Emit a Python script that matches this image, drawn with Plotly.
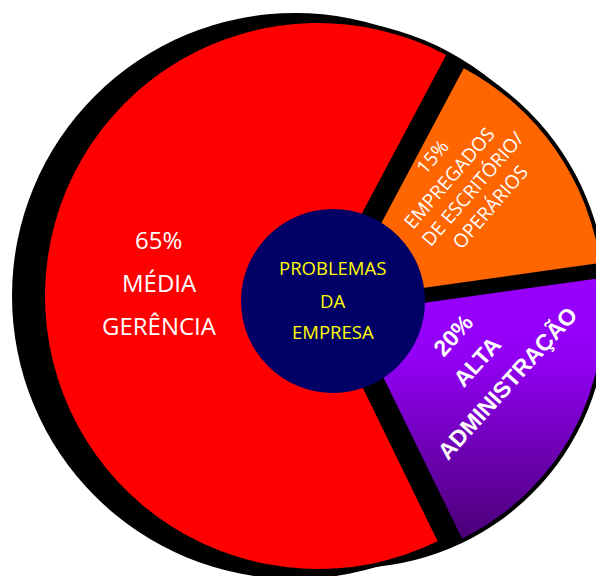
import math
import plotly.graph_objects as go

# ---------------- data ----------------
categories = ["EMPREGADOS DE ESCRITÓRIO/OPERÁRIOS", "ALTA ADMINISTRAÇÃO", "MÉDIA GERÊNCIA"]
values = [15, 20, 65]
slice_colors = ["#FF6600", "#9900FF", "#FF0000"]
center_title = ["PROBLEMAS", "DA", "EMPRESA"]
orange_lines = ["EMPREGADOS", "DE ESCRITÓRIO/", "OPERÁRIOS"]
purple_lines = ["ALTA", "ADMINISTRAÇÃO"]
red_lines = ["MÉDIA", "GERÊNCIA"]
purple_gradient = [[0.0, "#9900FF"], [0.3, "#9300F5"], [1.0, "#4B0078"]]

# ---------------- layout constants ----------------
W, H = 604, 576          # window size
OFF = 8                  # default page (body) margin
FW, FH = W - OFF, H - OFF  # figure size so that it ends at the window edge
START_ANGLE = 28  # first slice starts 28 deg clockwise from 12 o'clock
RIM = 4           # thin black rim around each slice
# exploded slices: pixel apex (window coords) and radius of each slice
placement = [
    (340.7, 299.5, 262.0),  # orange
    (352.0, 313.0, 251.0),  # purple
    (318.0, 296.0, 273.0),  # red
]
TRANSPARENT = "rgba(0,0,0,0)"

fig = go.Figure()

# gradient fill for the purple slice (drawn on px-scaled hidden axes, below pies)
total = sum(values)
a0 = START_ANGLE + 360.0 * values[0] / total
a1 = a0 + 360.0 * values[1] / total
pcx, pcy, pr = placement[1]
xs, ys = [pcx], [pcy]
n = 80
for k in range(n + 1):
    a = math.radians(a0 + (a1 - a0) * k / n)
    xs.append(pcx + pr * math.sin(a))
    ys.append(pcy - pr * math.cos(a))
xs.append(pcx)
ys.append(pcy)
fig.add_trace(go.Scatter(
    x=xs, y=ys, mode="lines", fill="toself", line=dict(width=0, color=TRANSPARENT),
    fillgradient=dict(type="vertical", colorscale=purple_gradient,
                      start=min(ys), stop=max(ys)),
    hoverinfo="skip", showlegend=False,
))

# one pie per exploded slice (same data, only its own slice is painted)
for i, (cx, cy, r) in enumerate(placement):
    cols = [slice_colors[j] if (j == i and i != 1) else TRANSPARENT for j in range(len(values))]
    fig.add_trace(go.Pie(
        labels=categories, values=values, sort=False, direction="clockwise",
        rotation=START_ANGLE,
        marker=dict(colors=cols, line=dict(width=0, color="black")),
        textinfo="none", hoverinfo="skip", showlegend=False,
        domain=dict(x=[(cx - r - OFF) / FW, (cx + r - OFF) / FW],
                    y=[1 - (cy + r - OFF) / FH, 1 - (cy - r - OFF) / FH]),
    ))

shapes = [
    # black shadow disk, offset to the left
    dict(type="circle", xref="x", yref="y", x0=12, x1=578, y0=13, y1=579,
         fillcolor="black", line=dict(width=0), layer="below"),
]
# black backing behind each slice (fills the gaps and gives a thin rim)
for cx, cy, r in placement:
    shapes.append(dict(type="circle", xref="x", yref="y",
                       x0=cx - r - RIM, x1=cx + r + RIM, y0=cy - r - RIM, y1=cy + r + RIM,
                       fillcolor="black", line=dict(width=0), layer="below"))
# navy centre
shapes.append(dict(type="circle", xref="x", yref="y", x0=333 - 92, x1=333 + 92,
                   y0=301 - 92, y1=301 + 92, fillcolor="#000066",
                   line=dict(width=0), layer="above"))

ann = []
def add(text, x, y, size, color, family, angle=0):
    ann.append(dict(text=text, x=x, y=y, xref="x", yref="y", showarrow=False,
                    xanchor="center", yanchor="middle", textangle=angle,
                    font=dict(size=size, color=color, family=family)))

# centre
for t, y in zip(center_title, [267.3, 300, 331.7]):
    add(t, 332.7, y, 18.5, "#FFFF00", "Open Sans")
# red
add(f"{values[2]}%", 158.3, 239, 24, "white", "Open Sans")
for t, y in zip(red_lines, [282.3, 325.7]):
    add(t, 159.5, y, 24, "white", "Open Sans")
# orange
add(f"{values[0]}%", 432.3, 157.3, 19, "white", "Open Sans", -49)
for t, (x, y) in zip(orange_lines, [(449, 178), (472.3, 189), (490, 207.3)]):
    add(t, x, y, 19, "white", "Open Sans", -49)
# purple
add(f"<b>{values[1]}%</b>", 453.3, 335, 23, "white", "Liberation Sans", -48)
for t, (x, y) in zip(purple_lines, [(476.7, 361.7), (507.3, 382.3)]):
    add(f"<b>{t}</b>", x, y, 23, "white", "Liberation Sans", -48)

fig.update_layout(
    width=FW, height=FH, margin=dict(l=0, r=0, t=0, b=0),
    paper_bgcolor="white", plot_bgcolor="white",
    xaxis=dict(range=[OFF, W], visible=False, fixedrange=True),
    yaxis=dict(range=[H, OFF], visible=False, fixedrange=True),
    shapes=shapes, annotations=ann, showlegend=False,
)

fig.write_html("out.html")
